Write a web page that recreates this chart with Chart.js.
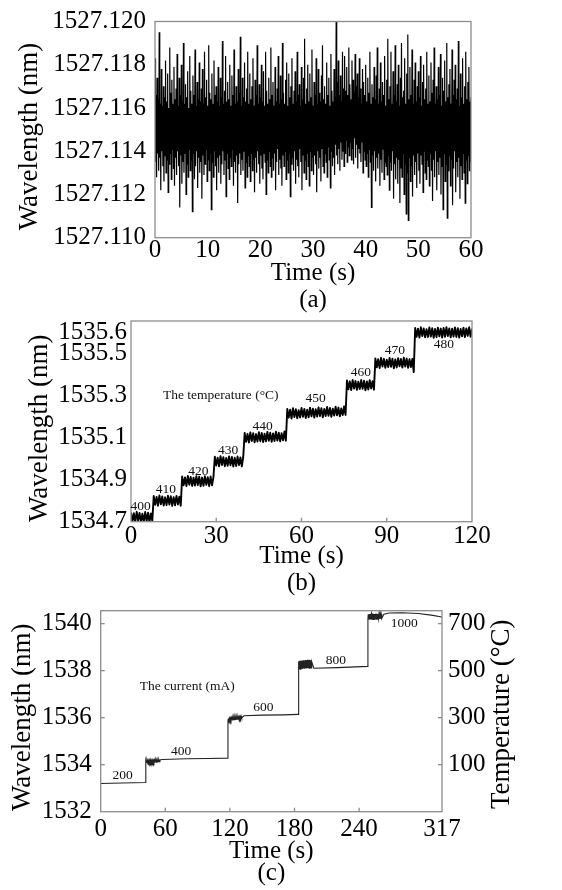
<!DOCTYPE html>
<html>
<head>
<meta charset="utf-8">
<script src="https://cdn.jsdelivr.net/npm/chart.js@4.4.1/dist/chart.umd.min.js"></script>
<style>
  html, body { margin: 0; padding: 0; background: #fff; }
  #wrap { position: relative; width: 562px; height: 890px; overflow: hidden; }
  #wrap canvas { position: absolute; left: 0; top: 0; }
</style>
</head>
<body>
<div id="wrap">
  <canvas id="chartA" width="562" height="890"></canvas>
  <canvas id="chartB" width="562" height="890"></canvas>
  <canvas id="chartC" width="562" height="890"></canvas>
</div>
<script>
const SERIF = "'Liberation Serif', 'Times New Roman', serif";

// ---- (a) wavelength stability, one sample every 0.1 s ----
const waveA = [
  1527.1183, 1527.1135, 1527.1166, 1527.1128, 1527.1174, 1527.1139, 1527.1164, 1527.1131, 1527.1195, 1527.1137, 1527.1162, 1527.1122, 1527.1178, 1527.1140, 1527.1161, 1527.1133, 1527.1170, 1527.1126, 1527.1165, 1527.1138,
  1527.1182, 1527.1130, 1527.1163, 1527.1136, 1527.1176, 1527.1121, 1527.1160, 1527.1134, 1527.1188, 1527.1139, 1527.1167, 1527.1127, 1527.1173, 1527.1141, 1527.1162, 1527.1132, 1527.1179, 1527.1124, 1527.1164, 1527.1137,
  1527.1169, 1527.1129, 1527.1185, 1527.1140, 1527.1161, 1527.1133, 1527.1174, 1527.1114, 1527.1166, 1527.1138, 1527.1180, 1527.1125, 1527.1163, 1527.1135, 1527.1190, 1527.1130, 1527.1162, 1527.1139, 1527.1171, 1527.1120,
  1527.1165, 1527.1134, 1527.1177, 1527.1128, 1527.1160, 1527.1141, 1527.1184, 1527.1131, 1527.1168, 1527.1136, 1527.1162, 1527.1112, 1527.1175, 1527.1139, 1527.1166, 1527.1127, 1527.1187, 1527.1133, 1527.1161, 1527.1140,
  1527.1172, 1527.1123, 1527.1164, 1527.1137, 1527.1181, 1527.1130, 1527.1163, 1527.1135, 1527.1169, 1527.1118, 1527.1178, 1527.1138, 1527.1162, 1527.1129, 1527.1186, 1527.1134, 1527.1165, 1527.1141, 1527.1173, 1527.1126,
  1527.1161, 1527.1136, 1527.1189, 1527.1131, 1527.1167, 1527.1139, 1527.1164, 1527.1113, 1527.1176, 1527.1135, 1527.1162, 1527.1128, 1527.1182, 1527.1140, 1527.1166, 1527.1133, 1527.1170, 1527.1122, 1527.1163, 1527.1137,
  1527.1179, 1527.1130, 1527.1161, 1527.1138, 1527.1174, 1527.1125, 1527.1165, 1527.1134, 1527.1191, 1527.1140, 1527.1162, 1527.1129, 1527.1168, 1527.1136, 1527.1184, 1527.1119, 1527.1163, 1527.1139, 1527.1172, 1527.1132,
  1527.1164, 1527.1127, 1527.1180, 1527.1137, 1527.1161, 1527.1133, 1527.1175, 1527.1141, 1527.1166, 1527.1124, 1527.1187, 1527.1135, 1527.1162, 1527.1130, 1527.1170, 1527.1138, 1527.1163, 1527.1116, 1527.1178, 1527.1134,
  1527.1167, 1527.1139, 1527.1193, 1527.1129, 1527.1161, 1527.1136, 1527.1174, 1527.1131, 1527.1165, 1527.1140, 1527.1181, 1527.1123, 1527.1163, 1527.1135, 1527.1169, 1527.1128, 1527.1186, 1527.1138, 1527.1162, 1527.1133,
  1527.1176, 1527.1126, 1527.1164, 1527.1139, 1527.1170, 1527.1131, 1527.1183, 1527.1136, 1527.1161, 1527.1121, 1527.1173, 1527.1137, 1527.1166, 1527.1130, 1527.1189, 1527.1140, 1527.1162, 1527.1134, 1527.1171, 1527.1125,
  1527.1165, 1527.1138, 1527.1180, 1527.1132, 1527.1163, 1527.1127, 1527.1177, 1527.1139, 1527.1161, 1527.1135, 1527.1186, 1527.1120, 1527.1168, 1527.1136, 1527.1162, 1527.1130, 1527.1174, 1527.1140, 1527.1164, 1527.1133,
  1527.1188, 1527.1128, 1527.1166, 1527.1137, 1527.1172, 1527.1131, 1527.1161, 1527.1139, 1527.1179, 1527.1122, 1527.1163, 1527.1135, 1527.1169, 1527.1141, 1527.1184, 1527.1129, 1527.1162, 1527.1136, 1527.1175, 1527.1132,
  1527.1164, 1527.1124, 1527.1190, 1527.1138, 1527.1167, 1527.1133, 1527.1162, 1527.1140, 1527.1173, 1527.1127, 1527.1181, 1527.1136, 1527.1161, 1527.1130, 1527.1176, 1527.1139, 1527.1165, 1527.1119, 1527.1170, 1527.1134,
  1527.1183, 1527.1137, 1527.1162, 1527.1131, 1527.1168, 1527.1140, 1527.1177, 1527.1125, 1527.1163, 1527.1136, 1527.1186, 1527.1133, 1527.1166, 1527.1128, 1527.1171, 1527.1141, 1527.1161, 1527.1135, 1527.1179, 1527.1122,
  1527.1164, 1527.1138, 1527.1174, 1527.1130, 1527.1192, 1527.1136, 1527.1162, 1527.1127, 1527.1169, 1527.1139, 1527.1180, 1527.1133, 1527.1163, 1527.1124, 1527.1176, 1527.1140, 1527.1165, 1527.1131, 1527.1187, 1527.1137,
  1527.1161, 1527.1129, 1527.1172, 1527.1138, 1527.1166, 1527.1134, 1527.1183, 1527.1121, 1527.1162, 1527.1140, 1527.1178, 1527.1132, 1527.1167, 1527.1137, 1527.1163, 1527.1126, 1527.1175, 1527.1141, 1527.1189, 1527.1133,
  1527.1164, 1527.1130, 1527.1170, 1527.1139, 1527.1162, 1527.1135, 1527.1181, 1527.1128, 1527.1166, 1527.1142, 1527.1174, 1527.1136, 1527.1161, 1527.1123, 1527.1185, 1527.1140, 1527.1168, 1527.1133, 1527.1163, 1527.1137,
  1527.1178, 1527.1129, 1527.1165, 1527.1143, 1527.1200, 1527.1138, 1527.1172, 1527.1134, 1527.1182, 1527.1141, 1527.1166, 1527.1131, 1527.1175, 1527.1144, 1527.1163, 1527.1136, 1527.1186, 1527.1140, 1527.1169, 1527.1133,
  1527.1184, 1527.1139, 1527.1168, 1527.1145, 1527.1179, 1527.1135, 1527.1166, 1527.1142, 1527.1188, 1527.1138, 1527.1171, 1527.1144, 1527.1164, 1527.1136, 1527.1182, 1527.1141, 1527.1173, 1527.1134, 1527.1167, 1527.1146,
  1527.1185, 1527.1137, 1527.1170, 1527.1143, 1527.1176, 1527.1132, 1527.1165, 1527.1141, 1527.1183, 1527.1139, 1527.1169, 1527.1135, 1527.1162, 1527.1144, 1527.1178, 1527.1130, 1527.1172, 1527.1140, 1527.1166, 1527.1136,
  1527.1180, 1527.1133, 1527.1163, 1527.1139, 1527.1174, 1527.1128, 1527.1167, 1527.1141, 1527.1186, 1527.1135, 1527.1162, 1527.1114, 1527.1171, 1527.1138, 1527.1165, 1527.1131, 1527.1179, 1527.1140, 1527.1164, 1527.1126,
  1527.1175, 1527.1137, 1527.1188, 1527.1132, 1527.1162, 1527.1139, 1527.1169, 1527.1124, 1527.1181, 1527.1136, 1527.1163, 1527.1130, 1527.1172, 1527.1141, 1527.1166, 1527.1127, 1527.1184, 1527.1135, 1527.1161, 1527.1133,
  1527.1173, 1527.1129, 1527.1192, 1527.1138, 1527.1164, 1527.1122, 1527.1170, 1527.1135, 1527.1186, 1527.1131, 1527.1162, 1527.1140, 1527.1177, 1527.1118, 1527.1166, 1527.1134, 1527.1189, 1527.1127, 1527.1163, 1527.1137,
  1527.1171, 1527.1125, 1527.1180, 1527.1136, 1527.1161, 1527.1116, 1527.1174, 1527.1132, 1527.1190, 1527.1128, 1527.1165, 1527.1139, 1527.1168, 1527.1120, 1527.1183, 1527.1134, 1527.1162, 1527.1111, 1527.1176, 1527.1130,
  1527.1194, 1527.1108, 1527.1164, 1527.1137, 1527.1179, 1527.1126, 1527.1166, 1527.1133, 1527.1187, 1527.1119, 1527.1162, 1527.1138, 1527.1173, 1527.1129, 1527.1181, 1527.1135, 1527.1163, 1527.1123, 1527.1170, 1527.1139,
  1527.1177, 1527.1131, 1527.1165, 1527.1125, 1527.1184, 1527.1138, 1527.1161, 1527.1134, 1527.1172, 1527.1121, 1527.1180, 1527.1140, 1527.1164, 1527.1130, 1527.1169, 1527.1127, 1527.1186, 1527.1136, 1527.1162, 1527.1133,
  1527.1175, 1527.1124, 1527.1163, 1527.1139, 1527.1181, 1527.1131, 1527.1167, 1527.1117, 1527.1173, 1527.1136, 1527.1188, 1527.1128, 1527.1162, 1527.1140, 1527.1170, 1527.1122, 1527.1164, 1527.1135, 1527.1179, 1527.1129,
  1527.1166, 1527.1137, 1527.1185, 1527.1120, 1527.1161, 1527.1133, 1527.1174, 1527.1113, 1527.1168, 1527.1139, 1527.1182, 1527.1126, 1527.1163, 1527.1134, 1527.1190, 1527.1109, 1527.1165, 1527.1131, 1527.1171, 1527.1138,
  1527.1178, 1527.1124, 1527.1162, 1527.1136, 1527.1187, 1527.1115, 1527.1166, 1527.1132, 1527.1173, 1527.1140, 1527.1180, 1527.1121, 1527.1164, 1527.1135, 1527.1169, 1527.1128, 1527.1191, 1527.1137, 1527.1161, 1527.1118,
  1527.1176, 1527.1133, 1527.1165, 1527.1127, 1527.1183, 1527.1139, 1527.1162, 1527.1130, 1527.1170, 1527.1116, 1527.1186, 1527.1136, 1527.1164, 1527.1125, 1527.1172, 1527.1138, 1527.1179, 1527.1131, 1527.1163, 1527.1135,
  1527.1165
];
const timeA = waveA.map((_, i) => i * 0.1);
const ticksAX = [0, 10, 20, 30, 40, 50, 60];
const ticksAY = [1527.110, 1527.112, 1527.114, 1527.116, 1527.118, 1527.120];

// ---- (b) temperature steps, one sample every 0.5 s ----
const step400 = [1534.744, 1534.702, 1534.740, 1534.698, 1534.747, 1534.705, 1534.742, 1534.699, 1534.738, 1534.701,
  1534.746, 1534.703, 1534.743, 1534.697, 1534.739, 1534.704];
const step410 = [1534.822, 1534.780, 1534.818, 1534.776, 1534.825, 1534.783, 1534.820, 1534.777, 1534.816, 1534.779,
  1534.824, 1534.781, 1534.821, 1534.775, 1534.817, 1534.778, 1534.823, 1534.782, 1534.819, 1534.776];
const step420 = [1534.915, 1534.873, 1534.911, 1534.869, 1534.918, 1534.876, 1534.913, 1534.870, 1534.909, 1534.872,
  1534.917, 1534.874, 1534.914, 1534.868, 1534.910, 1534.871, 1534.916, 1534.875, 1534.912, 1534.869,
  1534.915, 1534.873, 1534.911];
const step430 = [1535.009, 1534.967, 1535.005, 1534.963, 1535.012, 1534.970, 1535.007, 1534.964, 1535.003, 1534.966,
  1535.011, 1534.968, 1535.008, 1534.962, 1535.004, 1534.965, 1535.010, 1534.969, 1535.006, 1534.963, 1535.009];
const step440 = [1535.122, 1535.080, 1535.118, 1535.077, 1535.125, 1535.084, 1535.121, 1535.078, 1535.117, 1535.081,
  1535.126, 1535.083, 1535.122, 1535.079, 1535.119, 1535.082, 1535.127, 1535.085, 1535.123, 1535.080,
  1535.120, 1535.084, 1535.128, 1535.086, 1535.124, 1535.082, 1535.121, 1535.087, 1535.129, 1535.085];
const step450 = [1535.237, 1535.195, 1535.233, 1535.191, 1535.240, 1535.198, 1535.235, 1535.192, 1535.231, 1535.196,
  1535.241, 1535.199, 1535.237, 1535.193, 1535.233, 1535.197, 1535.243, 1535.201, 1535.238, 1535.195,
  1535.235, 1535.200, 1535.244, 1535.202, 1535.240, 1535.197, 1535.236, 1535.203, 1535.246, 1535.204,
  1535.241, 1535.199, 1535.238, 1535.205, 1535.247, 1535.206, 1535.243, 1535.201, 1535.239, 1535.207,
  1535.249, 1535.208];
const step460 = [1535.372, 1535.330, 1535.368, 1535.326, 1535.375, 1535.333, 1535.370, 1535.327, 1535.366, 1535.331,
  1535.374, 1535.332, 1535.371, 1535.325, 1535.367, 1535.329, 1535.373, 1535.334, 1535.369, 1535.328];
const step470 = [1535.477, 1535.435, 1535.473, 1535.431, 1535.480, 1535.438, 1535.475, 1535.432, 1535.471, 1535.436,
  1535.479, 1535.437, 1535.476, 1535.430, 1535.472, 1535.434, 1535.478, 1535.439, 1535.474, 1535.433,
  1535.481, 1535.438, 1535.477, 1535.432, 1535.473, 1535.436, 1535.475, 1535.412];
const step480 = [1535.622, 1535.580, 1535.618, 1535.576, 1535.625, 1535.583, 1535.620, 1535.577, 1535.616, 1535.579,
  1535.624, 1535.581, 1535.621, 1535.575, 1535.617, 1535.578, 1535.623, 1535.582, 1535.619, 1535.576,
  1535.622, 1535.580, 1535.626, 1535.583, 1535.620, 1535.577, 1535.618, 1535.581, 1535.624, 1535.579,
  1535.621, 1535.576, 1535.617, 1535.582, 1535.623, 1535.578, 1535.620, 1535.584, 1535.625, 1535.580,
  1535.619];
const waveB = [...step400, ...step410, ...step420, ...step430, ...step440,
  ...step450, ...step460, ...step470, ...step480];
const timeB = waveB.map((_, i) => i * 0.5);
const ticksBX = [0, 30, 60, 90, 120];
const ticksBY = [1534.7, 1534.9, 1535.1, 1535.3, 1535.5, 1535.6];
const notesB = [
  { text: '400', x: 3.4, y: 1534.771 },
  { text: '410', x: 12.3, y: 1534.855 },
  { text: '420', x: 23.7, y: 1534.938 },
  { text: '430', x: 34.2, y: 1535.041 },
  { text: '440', x: 46.3, y: 1535.155 },
  { text: '450', x: 65.0, y: 1535.285 },
  { text: '460', x: 80.9, y: 1535.410 },
  { text: '470', x: 92.9, y: 1535.516 },
  { text: '480', x: 110.1, y: 1535.543 },
  { text: 'The temperature (\u00B0C)', x: 31.6, y: 1535.299 }
];

// ---- (c) current steps ----
const timeC = [0, 20, 41.5, 41.8,
  42, 42.5, 43, 43.5, 44, 44.5, 45, 45.5, 46, 46.5, 47, 47.5, 48, 48.5, 49, 49.5, 50, 50.5, 51, 51.5, 52, 52.5, 53, 53.5, 54, 54.5, 55,
  57, 80, 100, 117.8, 118.2,
  118.5, 119, 119.5, 120, 120.5, 121, 121.5, 122, 122.5, 123, 123.5, 124, 124.5, 125, 125.5, 126, 126.5, 127, 127.5, 128, 128.5, 129, 129.5, 130, 130.5, 131,
  133, 150, 170, 183.3, 183.7,
  184, 184.5, 185, 185.5, 186, 186.5, 187, 187.5, 188, 188.5, 189, 189.5, 190, 190.5, 191, 191.5, 192, 192.5, 193, 193.5, 194, 194.5, 195, 195.5, 196,
  198, 220, 247.8, 248.2,
  248.5, 249, 249.5, 250, 250.5, 251, 251.5, 252, 252.5, 253, 253.5, 254, 254.5, 255, 255.5, 256, 256.5, 257, 257.5, 258, 258.5, 259, 259.5, 260, 260.5, 261,
  263, 268, 280, 295, 307, 317];
const waveC = [1533.20, 1533.22, 1533.24, 1534.18,
  1534.20, 1534.10, 1534.19, 1534.09, 1534.20, 1534.11, 1534.19, 1534.10, 1534.21, 1534.10, 1534.19, 1534.11, 1534.20, 1534.10,
  1534.19, 1534.11, 1534.21, 1534.12, 1534.20, 1534.11, 1534.19, 1534.12, 1534.20, 1534.13, 1534.21, 1534.13, 1534.20,
  1534.22, 1534.25, 1534.26, 1534.28, 1535.90,
  1535.93, 1535.88, 1535.98, 1535.89, 1535.99, 1535.89, 1536.00, 1535.90, 1536.00, 1535.91, 1536.01, 1535.91, 1536.02,
  1535.92, 1536.02, 1535.93, 1536.03, 1535.94, 1536.04, 1535.95, 1536.05, 1535.96, 1536.06, 1535.97, 1536.06, 1535.99,
  1536.08, 1536.11, 1536.12, 1536.14, 1538.05,
  1538.40, 1538.07, 1538.42, 1538.06, 1538.43, 1538.08, 1538.42, 1538.07, 1538.44, 1538.09, 1538.43, 1538.08, 1538.45,
  1538.10, 1538.44, 1538.09, 1538.46, 1538.11, 1538.45, 1538.10, 1538.46, 1538.12, 1538.44, 1538.11, 1538.38,
  1538.10, 1538.13, 1538.18, 1540.20,
  1540.40, 1540.18, 1540.41, 1540.17, 1540.42, 1540.18, 1540.41, 1540.19, 1540.43, 1540.18, 1540.42, 1540.19, 1540.41,
  1540.20, 1540.43, 1540.19, 1540.42, 1540.20, 1540.41, 1540.21, 1540.43, 1540.20, 1540.42, 1540.21, 1540.41, 1540.22,
  1540.40, 1540.45, 1540.46, 1540.43, 1540.36, 1540.28];
const ticksCX = [0, 60, 120, 180, 240, 317];
const ticksCY = [1532, 1534, 1536, 1538, 1540];
const ticksCT = [100, 300, 500, 700];
const notesC = [
  { text: '200', x: 20.4, y: 1533.53 },
  { text: '400', x: 74.6, y: 1534.56 },
  { text: '600', x: 151.0, y: 1536.43 },
  { text: '800', x: 218.5, y: 1538.44 },
  { text: '1000', x: 282.0, y: 1540.00 },
  { text: 'The current (mA)', x: 80.4, y: 1537.31 }
];

// frame, inward tick marks, in-plot notes and rotated side titles
const panelDeco = {
  id: 'panelDeco',
  afterDatasetsDraw(chart, args, opts) {
    const { ctx, chartArea: a } = chart;
    ctx.save();
    ctx.strokeStyle = '#8c8c8c';
    ctx.lineWidth = 1.3;
    ctx.strokeRect(a.left, a.top, a.right - a.left, a.bottom - a.top);
    (opts.innerTicks || []).forEach(id => {
      const s = chart.scales[id];
      s.ticks.forEach(t => {
        const p = s.getPixelForValue(t.value);
        ctx.beginPath();
        if (s.isHorizontal()) {
          if (p <= a.left + 1 || p >= a.right - 1) return;
          ctx.moveTo(p, a.bottom); ctx.lineTo(p, a.bottom - 4);
        } else {
          if (p <= a.top + 1 || p >= a.bottom - 1) return;
          const edge = s.position === 'right' ? a.right : a.left;
          ctx.moveTo(edge, p); ctx.lineTo(edge + (s.position === 'right' ? -4 : 4), p);
        }
        ctx.stroke();
      });
    });
    ctx.fillStyle = '#111';
    ctx.textAlign = 'center';
    ctx.textBaseline = 'middle';
    ctx.font = '13.5px ' + SERIF;
    (opts.notes || []).forEach(n => {
      ctx.fillText(n.text, chart.scales.x.getPixelForValue(n.x), chart.scales.y.getPixelForValue(n.y));
    });
    ctx.font = '27px ' + SERIF;
    ctx.fillStyle = '#000';
    (opts.sideTitles || []).forEach(st => {
      ctx.save();
      ctx.translate(st.x, (a.top + a.bottom) / 2 + st.shift);
      ctx.rotate(-Math.PI / 2);
      ctx.fillText(st.text, 0, 0);
      ctx.restore();
    });
    ctx.restore();
  }
};

function axis(o) {
  return {
    type: 'linear',
    position: o.position,
    min: o.min,
    max: o.max,
    grid: { display: false, drawTicks: false },
    border: { display: false },
    afterFit: s => {
      if (o.width) s.width = o.width;
      if (o.height) s.height = o.height;
    },
    afterBuildTicks: s => { s.ticks = o.ticks.map(v => ({ value: v })); },
    ticks: {
      autoSkip: false,
      maxRotation: 0,
      padding: o.pad,
      color: '#000',
      font: { family: SERIF, size: o.size || 25, lineHeight: 1 },
      callback: v => (o.digits != null ? Number(v).toFixed(o.digits) : String(v))
    },
    title: o.title
      ? { display: true, text: o.title, color: '#000', padding: 0,
          font: { family: SERIF, size: 25, lineHeight: o.titleLH } }
      : { display: false }
  };
}

function pairs(xs, ys) {
  return xs.map((x, i) => ({ x: x, y: ys[i] }));
}

function panel(id, o) {
  return new Chart(document.getElementById(id), {
    type: 'line',
    data: { datasets: o.datasets },
    options: {
      responsive: false,
      animation: false,
      devicePixelRatio: 1,
      events: [],
      layout: { padding: o.padding },
      elements: { point: { radius: 0 }, line: { tension: 0 } },
      plugins: { legend: { display: false }, tooltip: { enabled: false }, panelDeco: o.deco },
      scales: o.scales
    },
    plugins: [panelDeco]
  });
}

panel('chartA', {
  padding: { top: 20.7, right: 91, bottom: 576.5, left: 0 },
  datasets: [{ data: pairs(timeA, waveA), borderColor: '#000', borderWidth: 1.2 }],
  scales: {
    x: axis({ position: 'bottom', min: 0, max: 60, ticks: ticksAX, pad: 0, height: 75.8,
      title: ['Time (s)', '(a)'], titleLH: 1.08 }),
    y: axis({ position: 'left', min: 1527.110, max: 1527.120, ticks: ticksAY, pad: 9, width: 155, digits: 3 })
  },
  deco: { sideTitles: [{ text: 'Wavelength (nm)', x: 30, shift: 7 }] }
});

panel('chartB', {
  padding: { top: 321, right: 90, bottom: 293.5, left: 0 },
  datasets: [{ data: pairs(timeB, waveB), borderColor: '#000', borderWidth: 1.9, borderJoinStyle: 'round' }],
  scales: {
    x: axis({ position: 'bottom', min: 0, max: 120, ticks: ticksBX, pad: 2, height: 74.8,
      title: ['Time (s)', '(b)'], titleLH: 1.06 }),
    y: axis({ position: 'left', min: 1534.7, max: 1535.655, ticks: ticksBY, pad: 4, width: 131, digits: 1 })
  },
  deco: { innerTicks: ['x'], notes: notesB, sideTitles: [{ text: 'Wavelength (nm)', x: 40, shift: 7 }] }
});

panel('chartC', {
  padding: { top: 610.7, right: 0, bottom: 6, left: 0 },
  datasets: [{ data: pairs(timeC, waveC), borderColor: '#222', borderWidth: 1.1, yAxisID: 'y' }],
  scales: {
    x: axis({ position: 'bottom', min: 0, max: 317, ticks: ticksCX, pad: 5, height: 72.3,
      title: ['Time (s)', '(c)'], titleLH: 0.88 }),
    y: axis({ position: 'left', min: 1532, max: 1540.55, ticks: ticksCY, pad: 9, width: 100.7 }),
    y2: axis({ position: 'right', min: -100, max: 755, ticks: ticksCT, pad: 6, width: 120 })
  },
  deco: {
    innerTicks: ['x', 'y', 'y2'],
    notes: notesC,
    sideTitles: [
      { text: 'Wavelength (nm)', x: 23, shift: 6 },
      { text: 'Temperature (\u00B0C)', x: 502, shift: 3 }
    ]
  }
});
</script>
</body>
</html>
